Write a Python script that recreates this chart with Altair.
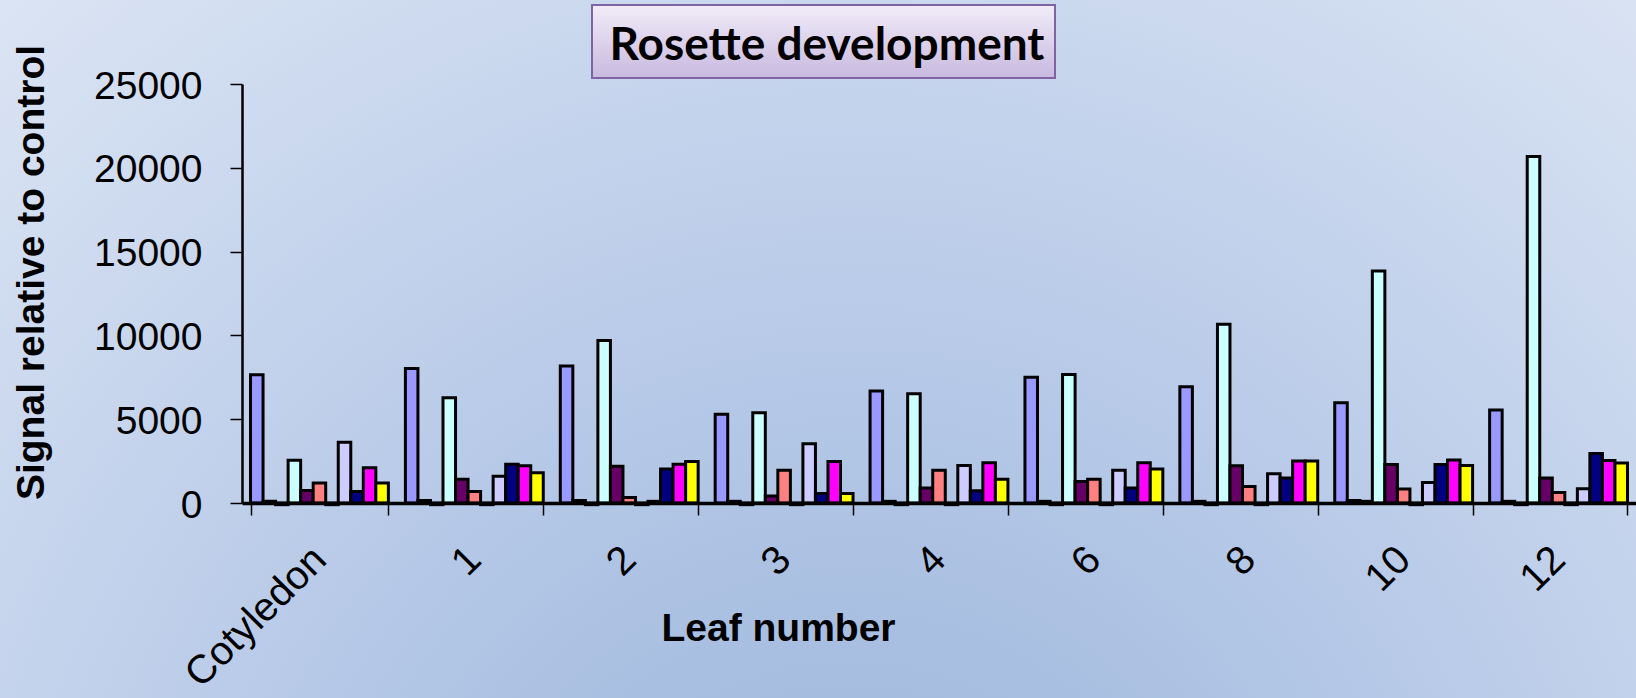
import altair as alt
import pandas as pd

# Leaf positions along the rosette
leaves = ["Cotyledon", "1", "2", "3", "4", "6", "8", "10", "12"]

# Eleven probes per leaf, drawn with the classic spreadsheet palette
series = ["P01", "P02", "P03", "P04", "P05", "P06", "P07", "P08", "P09", "P10", "P11"]
colors = ["#9999FF", "#993366", "#FFFFCC", "#CCFFFF", "#660066", "#FF8080",
          "#0066CC", "#CCCCFF", "#000080", "#FF00FF", "#FFFF00"]

# Signal relative to control, one list per leaf (values in probe order)
cotyledon = [7650, 100, -100, 2550, 740, 1200, -100, 3620, 690, 2110, 1200]
leaf_1 = [8030, 150, -100, 6280, 1410, 690, -100, 1590, 2310, 2230, 1800]
leaf_2 = [8180, 150, -100, 9700, 2200, 330, -100, 100, 2030, 2310, 2470]
leaf_3 = [5290, 100, -100, 5380, 420, 1960, -100, 3540, 570, 2470, 570]
leaf_4 = [6680, 100, -100, 6520, 890, 1960, -100, 2240, 730, 2400, 1410]
leaf_6 = [7510, 100, -100, 7670, 1290, 1410, -100, 1960, 890, 2400, 2030]
leaf_8 = [6930, 100, -100, 10660, 2220, 990, -100, 1750, 1490, 2500, 2500]
leaf_10 = [5980, 150, 100, 13840, 2300, 830, -100, 1230, 2300, 2570, 2240]
leaf_12 = [5550, 100, -100, 20680, 1490, 630, -100, 850, 2960, 2530, 2380]

groups = [cotyledon, leaf_1, leaf_2, leaf_3, leaf_4, leaf_6, leaf_8, leaf_10, leaf_12]

rows = []
for leaf, vals in zip(leaves, groups):
    for s, v in zip(series, vals):
        rows.append({"leaf": leaf, "probe": s, "signal": v})
df = pd.DataFrame(rows)

W, H = 1394, 419
PAD = {"left": 242, "top": 84, "right": 0, "bottom": 195}
FONT = "Liberation Sans"

one = pd.DataFrame({"k": [0]})

# Soft radial backdrop covering the whole canvas
backdrop = alt.Chart(one).mark_rect(
    color={
        "gradient": "radial",
        "x1": 0.52, "y1": 0.88, "r1": 0,
        "x2": 0.52, "y2": 0.88, "r2": 0.8,
        "stops": [
            {"offset": 0, "color": "#98b3d9"},
            {"offset": 0.45, "color": "#b5c8e7"},
            {"offset": 1, "color": "#dce5f4"},
        ],
    }
).encode(
    x=alt.value(-PAD["left"]), x2=alt.value(W + PAD["right"]),
    y=alt.value(-PAD["top"]), y2=alt.value(H + PAD["bottom"]),
)

# Framed title box
title_box = alt.Chart(one).mark_rect(
    color={
        "gradient": "linear", "x1": 0, "y1": 0, "x2": 0, "y2": 1,
        "stops": [
            {"offset": 0, "color": "#f1ecf8"},
            {"offset": 1, "color": "#c8b9df"},
        ],
    },
    stroke="#8064a2", strokeWidth=2,
).encode(
    x=alt.value(350), x2=alt.value(813),
    y=alt.value(-79), y2=alt.value(-6),
)

title_text = alt.Chart(one).mark_text(
    text="Rosette development", font="Lato", fontWeight="bold",
    fontSize=46, align="center", baseline="alphabetic", color="black",
).encode(x=alt.value(585), y=alt.value(-24))

bars = alt.Chart(df).mark_bar(stroke="black", strokeWidth=3).encode(
    x=alt.X(
        "leaf:N", sort=leaves, title="Leaf number",
        scale=alt.Scale(paddingInner=0.11, paddingOuter=0.055),
        axis=alt.Axis(
            labelAngle=-45, labelAlign="right", labelBaseline="middle",
            labelFont=FONT, labelFontSize=40, labelColor="black",
            labelPadding=38, labelOffset=0, labelLimit=400, labelOverlap=False,
            tickBand="extent", tickSize=12, tickColor="black", tickWidth=1.5,
            domainColor="black", domainWidth=3.5,
            titleFont=FONT, titleFontSize=39, titleFontWeight="bold",
            titleColor="black", titleX=536, titleY=137,
            titleAlign="center", titleBaseline="alphabetic", zindex=1,
        ),
    ),
    xOffset=alt.XOffset("probe:N", sort=series,
                        scale=alt.Scale(paddingInner=0, paddingOuter=0)),
    y=alt.Y(
        "signal:Q", title="Signal relative to control",
        scale=alt.Scale(domain=[0, 25000], nice=False, zero=True),
        axis=alt.Axis(
            values=[0, 5000, 10000, 15000, 20000, 25000], format="d",
            labelFont=FONT, labelFontSize=39, labelColor="black",
            labelPadding=28, labelOffset=2,
            tickSize=12, tickColor="black", tickWidth=1.5,
            domainColor="black", domainWidth=2.5, grid=False,
            titleFont=FONT, titleFontSize=39, titleFontWeight="bold",
            titleColor="black", titleAngle=270, titleX=-199, titleY=188,
            titleAlign="center", titleBaseline="alphabetic", zindex=1,
        ),
    ),
    color=alt.Color("probe:N", scale=alt.Scale(domain=series, range=colors),
                    legend=None),
)

chart = alt.layer(backdrop, title_box, title_text, bars).properties(
    width=W, height=H, padding=PAD,
    autosize=alt.AutoSizeParams(type="none"),
    background="#dfe8f6",
).configure_view(stroke=None)

chart.save("out.html", embed_options={"renderer": "svg", "actions": False})
